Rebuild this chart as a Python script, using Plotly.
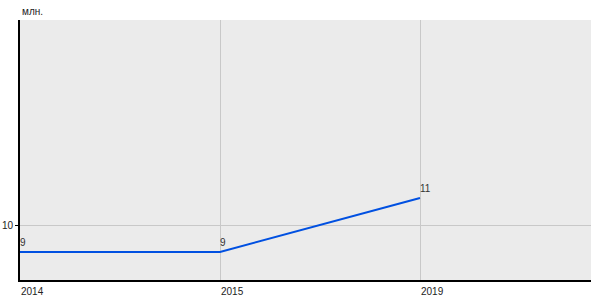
import plotly.graph_objects as go

years = ["2014", "2015", "2019"]
values = [9, 9, 11]
labels = ["9", "9", "11"]
y_ticks = [10]
unit = "млн."

xs = list(range(len(years)))

fig = go.Figure()
fig.add_trace(go.Scatter(
    x=xs, y=values, mode="lines",
    line=dict(color="rgb(0,80,225)", width=2),
    hoverinfo="skip",
))

annotations = [dict(
    text=unit, xref="paper", yref="paper", x=0, y=1, yshift=1,
    xanchor="left", yanchor="bottom", showarrow=False,
    font=dict(size=10, color="#222222"),
)]
for xv, yv, lab in zip(xs, values, labels):
    annotations.append(dict(
        text=lab, x=xv, y=yv, xref="x", yref="y",
        xanchor="left", yanchor="bottom", yshift=2, xshift=-2,
        showarrow=False, font=dict(size=10, color="#333333"),
    ))

fig.update_layout(
    width=600, height=300,
    margin=dict(l=20, r=9, t=20, b=20),
    paper_bgcolor="white", plot_bgcolor="#ebebeb",
    showlegend=False,
    font=dict(family="Liberation Sans, Arial", size=11, color="#222222"),
    annotations=annotations,
)
fig.update_xaxes(
    range=[0, 2.855], tickvals=xs, ticktext=years,
    ticklabelposition="outside right", ticklabelstandoff=1,
    showgrid=True, gridcolor="#c8c8c8", gridwidth=1,
    zeroline=False, showline=True, linecolor="black", linewidth=2,
    ticks="", tickfont=dict(size=10), automargin=False,
)
fig.update_yaxes(
    range=[10 - 55 / 27, 10 + 205 / 27], tickvals=y_ticks,
    showgrid=True, gridcolor="#c8c8c8", gridwidth=1,
    zeroline=False, showline=True, linecolor="black", linewidth=2,
    ticks="outside", ticklen=3, tickcolor="black", tickfont=dict(size=10),
    automargin=False,
)

fig.write_html("out.html")
